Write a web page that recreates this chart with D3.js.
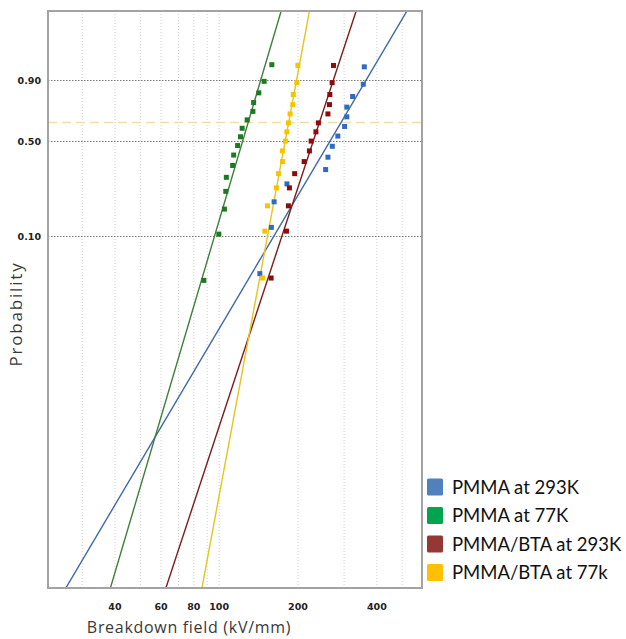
<!DOCTYPE html>
<html>
<head>
<meta charset="utf-8">
<script src="https://cdn.jsdelivr.net/npm/d3@7"></script>
<style>
  body { margin: 0; background: #fff; }
  svg { display: block; }
</style>
</head>
<body>
<div id="chart"></div>
<script>

// Weibull plot data
var seriesNames = ["PMMA at 293K", "PMMA at 77K", "PMMA/BTA at 293K", "PMMA/BTA at 77k"];
var legendColors = ["#4f81bd", "#00a550", "#953735", "#ffc000"];
var markerColors = ["#2f6cbf", "#1d7a22", "#8a0c0c", "#f5c400"];
var lineColors = ["#3f69a6", "#3f7f3c", "#7c1c1c", "#e6c41c"];

// breakdown field (kV/mm) of each sample, sorted
var fieldPmma293 = [143.0, 158.2, 162.1, 181.5, 255.0, 260.2, 270.4, 283.9, 301.3, 307.2, 307.2, 323.3, 355.1, 358.3];
var fieldPmma77 = [87.4, 99.7, 104.7, 106.0, 106.5, 112.6, 113.6, 117.6, 120.6, 122.4, 127.9, 134.5, 135.4, 141.7, 148.5, 158.9];
var fieldBta293 = [157.9, 180.7, 183.8, 185.5, 194.2, 211.1, 221.1, 224.5, 234.1, 239.3, 260.2, 263.7, 264.6, 270.0, 273.2];
var fieldBta77 = [146.6, 149.4, 152.9, 165.5, 168.4, 174.4, 174.4, 179.1, 181.3, 183.8, 186.6, 191.1, 191.9, 198.0, 199.8];

// cumulative probability of each point
var probN14 = [0.049, 0.118, 0.188, 0.257, 0.326, 0.396, 0.465, 0.535, 0.604, 0.674, 0.743, 0.813, 0.882, 0.951];
var probN16 = [0.043, 0.104, 0.165, 0.226, 0.287, 0.348, 0.409, 0.470, 0.530, 0.591, 0.652, 0.713, 0.774, 0.835, 0.896, 0.957];
var probN15 = [0.045, 0.110, 0.175, 0.240, 0.305, 0.370, 0.435, 0.500, 0.565, 0.630, 0.695, 0.760, 0.825, 0.890, 0.955];

// fitted Weibull lines: shape (beta) and scale (eta, kV/mm)
var fitShape = [3.81, 7.61, 6.83, 12.09];
var fitScale = [291.8, 129.0, 241.3, 184.2];

var xTickValues = [40, 60, 80, 100, 200, 400];
var xGridValues = [30, 40, 50, 60, 70, 80, 90, 100, 200, 300, 400, 500];
var yTickValues = [0.10, 0.50, 0.90];
var charLifeProb = 0.632;

var series = [
  {x: fieldPmma293, p: probN14},
  {x: fieldPmma77, p: probN16},
  {x: fieldBta293, p: probN15},
  {x: fieldBta77, p: probN15}
];

var width = 626, height = 639;
var plot = {left: 48, top: 11, right: 422, bottom: 588};

function weib(p) {
  return Math.log(-Math.log(1 - p));
}

var x = d3.scaleLog().domain([22.2, 595]).range([plot.left, plot.right]);
var y = d3.scaleLinear().domain([weib(0.0000994), weib(0.99989)]).range([plot.bottom, plot.top]);

var svg = d3.select("#chart").append("svg")
    .attr("width", width)
    .attr("height", height);

svg.append("defs").append("clipPath")
    .attr("id", "plotclip")
  .append("rect")
    .attr("x", plot.left)
    .attr("y", plot.top)
    .attr("width", plot.right - plot.left)
    .attr("height", plot.bottom - plot.top);

// vertical grid
svg.selectAll(".vgrid")
    .data(xGridValues)
  .enter().append("line")
    .attr("class", "vgrid")
    .attr("x1", function(d) { return x(d); })
    .attr("x2", function(d) { return x(d); })
    .attr("y1", plot.top)
    .attr("y2", plot.bottom)
    .attr("stroke", "#cfcfcf")
    .attr("stroke-width", 1)
    .attr("stroke-dasharray", "1,2");

// horizontal grid at the probability ticks
svg.selectAll(".hgrid")
    .data(yTickValues)
  .enter().append("line")
    .attr("class", "hgrid")
    .attr("x1", plot.left)
    .attr("x2", plot.right)
    .attr("y1", function(d) { return Math.round(y(weib(d))) + 0.5; })
    .attr("y2", function(d) { return Math.round(y(weib(d))) + 0.5; })
    .attr("stroke", "#7a7a7a")
    .attr("stroke-width", 1)
    .attr("stroke-dasharray", "1.5,1.5");

// characteristic life line
svg.append("line")
    .attr("x1", plot.left)
    .attr("x2", plot.right)
    .attr("y1", y(weib(charLifeProb)))
    .attr("y2", y(weib(charLifeProb)))
    .attr("stroke", "#f1dcaa")
    .attr("stroke-width", 1.5)
    .attr("stroke-dasharray", "9,5");

// fitted lines
var lineGen = d3.line()
    .x(function(d) { return x(d[0]); })
    .y(function(d) { return y(d[1]); });

var gLines = svg.append("g").attr("clip-path", "url(#plotclip)");
fitShape.forEach(function(beta, i) {
  var eta = fitScale[i];
  var pts = x.domain().map(function(v) {
    return [v, beta * (Math.log(v) - Math.log(eta))];
  });
  gLines.append("path")
      .attr("d", lineGen(pts))
      .attr("fill", "none")
      .attr("stroke", lineColors[i])
      .attr("stroke-width", 1.4);
});

// data points
var gPts = svg.append("g").attr("clip-path", "url(#plotclip)");
series.forEach(function(s, i) {
  gPts.selectAll(".pt" + i)
      .data(s.x)
    .enter().append("rect")
      .attr("class", "pt" + i)
      .attr("x", function(d) { return x(d) - 2.5; })
      .attr("y", function(d, j) { return y(weib(s.p[j])) - 2.5; })
      .attr("width", 5)
      .attr("height", 5)
      .attr("fill", markerColors[i]);
});

// frame
svg.append("rect")
    .attr("x", plot.left)
    .attr("y", plot.top)
    .attr("width", plot.right - plot.left)
    .attr("height", plot.bottom - plot.top)
    .attr("fill", "none")
    .attr("stroke", "#a3a3a3")
    .attr("stroke-width", 2);

// tick labels
svg.selectAll(".xlab")
    .data(xTickValues)
  .enter().append("text")
    .attr("class", "xlab")
    .attr("x", function(d) { return x(d); })
    .attr("y", 610)
    .attr("text-anchor", "middle")
    .attr("font-family", "DejaVu Sans")
    .attr("font-weight", "bold")
    .attr("font-size", "9.5px")
    .attr("fill", "#222")
    .text(function(d) { return d; });

svg.selectAll(".ylab")
    .data(yTickValues)
  .enter().append("text")
    .attr("class", "ylab")
    .attr("x", 41)
    .attr("y", function(d) { return y(weib(d)) + 3.5; })
    .attr("text-anchor", "end")
    .attr("font-family", "DejaVu Sans")
    .attr("font-weight", "bold")
    .attr("font-size", "9.5px")
    .attr("fill", "#222")
    .text(function(d) { return d.toFixed(2); });

// axis titles
svg.append("text")
    .attr("x", 189)
    .attr("y", 633)
    .attr("text-anchor", "middle")
    .attr("font-family", "Open Sans")
    .attr("font-size", "16px")
    .attr("letter-spacing", "0.7px")
    .attr("fill", "#3a3a3a")
    .text("Breakdown field (kV/mm)");

svg.append("text")
    .attr("transform", "translate(22,314) rotate(-90)")
    .attr("text-anchor", "middle")
    .attr("font-family", "Open Sans")
    .attr("font-size", "17px")
    .attr("letter-spacing", "1.8px")
    .attr("fill", "#3a3a3a")
    .text("Probability");

// legend
var legend = svg.selectAll(".legend")
    .data(seriesNames)
  .enter().append("g")
    .attr("class", "legend")
    .attr("transform", function(d, i) { return "translate(427," + (487 + i * 28.5) + ")"; });

legend.append("rect")
    .attr("x", 0)
    .attr("y", -8.5)
    .attr("width", 16)
    .attr("height", 17)
    .attr("rx", 1.5)
    .attr("fill", function(d, i) { return legendColors[i]; });

legend.append("text")
    .attr("x", 25)
    .attr("y", 6.5)
    .attr("font-family", "Lato")
    .attr("font-size", "18.5px")
    .attr("fill", "#111")
    .text(function(d) { return d; });

</script>
</body>
</html>
